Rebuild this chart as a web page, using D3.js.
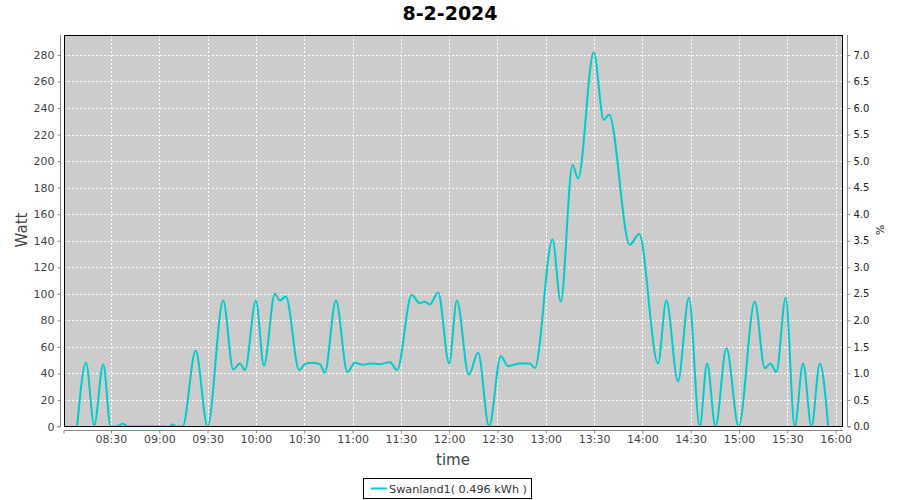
<!DOCTYPE html>
<html>
<head>
<meta charset="utf-8">
<script src="https://cdn.jsdelivr.net/npm/d3@7"></script>
<style>
  body { margin: 0; background: #fff; }
  svg { display: block; font-family: "DejaVu Sans", sans-serif; }
</style>
</head>
<body>
<svg id="chart" width="900" height="500"></svg>
<script>
// ---- data ----
const title = "8-2-2024";
const seriesName = "Swanland1( 0.496 kWh )";
const times = ["08:09:00","08:14:30","08:19:36","08:25:12","08:29:48","08:33:42","08:37:18","08:40:36",
  "09:06:36","09:08:18","09:10:24","09:14:30","09:22:36","09:30:00","09:39:42","09:45:54","09:50:06",
  "09:53:12","10:00:00","10:05:00","10:11:48","10:14:54","10:18:36","10:26:54","10:30:24","10:34:48",
  "10:39:42","10:42:48","10:49:42","10:56:48","11:01:30","11:06:24","11:10:48","11:17:00","11:23:12",
  "11:27:42","11:36:42","11:41:48","11:44:54","11:48:00","11:53:12","12:00:00","12:04:48","12:12:12",
  "12:18:00","12:24:48","12:32:06","12:36:36","12:43:54","12:50:06","12:53:12","13:04:12","13:09:18",
  "13:16:36","13:20:06","13:29:48","13:36:00","13:39:18","13:52:12","13:58:00","14:09:42","14:14:54",
  "14:22:06","14:28:54","14:35:36","14:40:12","14:45:24","14:52:12","14:59:48","15:09:48","15:16:00",
  "15:19:30","15:23:12","15:29:00","15:34:36","15:39:48","15:45:00","15:50:12","15:55:24"];
const watts = [0,48,1,47,0,0,2,0,
  0,1.5,0,0,57,0,95,43,47.5,
  42.5,95,46,100,95,98,42.5,47,48,
  47,40.5,95,41,48,46.5,47.5,47,48.5,
  42.5,99,93,94,92,101,47.5,95,39,
  55.5,0,53,45.5,47.5,47.5,44,141,94,
  197,187,282,231,235,137,145,47.5,95,
  34,97,0,47.5,0,59,0,94,44,
  47.5,41,97,0,47.5,0,47.5,0];
const leftTicks = [0,20,40,60,80,100,120,140,160,180,200,220,240,260,280];
const rightTicks = [0,0.5,1,1.5,2,2.5,3,3.5,4,4.5,5,5.5,6,6.5,7];
const xTickLabels = ["08:30","09:00","09:30","10:00","10:30","11:00","11:30","12:00","12:30","13:00","13:30","14:00","14:30","15:00","15:30","16:00"];

// ---- layout ----
const svg = d3.select("#chart");
const L = 64, R = 843, T = 35, B = 426.5;
const parse = d3.timeParse("%H:%M:%S");
const parseHM = d3.timeParse("%H:%M");
const data = times.map((t, i) => ({ t: parse(t), v: watts[i] }));

const x = d3.scaleTime().domain([parse("08:00:50"), parse("16:04:35")]).range([L, R]);
const y = d3.scaleLinear().domain([0, 295]).range([B, T]);
const y2 = d3.scaleLinear().domain([0, 7.375]).range([B, T]);
const xTicks = xTickLabels.map(parseHM);

// plot background
svg.append("rect").attr("x", L).attr("y", T).attr("width", R - L).attr("height", B - T)
  .attr("fill", "#cccccc");

// grid
const grid = svg.append("g").attr("stroke", "#fff").attr("stroke-width", 1).attr("stroke-dasharray", "2,2");
grid.selectAll("line.h").data(leftTicks.slice(1)).join("line")
  .attr("x1", L).attr("x2", R)
  .attr("y1", d => Math.round(y(d)) + 0.5).attr("y2", d => Math.round(y(d)) + 0.5);
grid.selectAll("line.v").data(xTicks).join("line")
  .attr("y1", T).attr("y2", B)
  .attr("x1", d => Math.round(x(d)) + 0.5).attr("x2", d => Math.round(x(d)) + 0.5);

// clip
svg.append("clipPath").attr("id", "clip").append("rect")
  .attr("x", L).attr("y", T - 2).attr("width", R - L).attr("height", B - T + 2);

// line
const line = d3.line().x(d => x(d.t)).y(d => y(d.v)).curve(d3.curveMonotoneX);
svg.append("path").datum(data).attr("d", line)
  .attr("fill", "none").attr("stroke", "#00cccc").attr("stroke-width", 2)
  .attr("stroke-linejoin", "round")
  .attr("clip-path", "url(#clip)");

// plot border
svg.append("rect").attr("x", L + 0.5).attr("y", T + 0.5).attr("width", R - L - 1).attr("height", B - T - 0.5)
  .attr("fill", "none").attr("stroke", "#000").attr("stroke-width", 1);

// axes
const axisColor = "#888";
const textColor = "#444";

const gL = svg.append("g").attr("transform", `translate(60.5,0)`)
  .call(d3.axisLeft(y).tickValues(leftTicks).tickSize(3).tickPadding(3).tickFormat(d3.format("d")));
const gR = svg.append("g").attr("transform", `translate(847.5,0)`)
  .call(d3.axisRight(y2).tickValues(rightTicks).tickSize(3).tickPadding(3).tickFormat(d3.format(".1f")));
const gB = svg.append("g").attr("transform", `translate(0,430.5)`)
  .call(d3.axisBottom(x).tickValues(xTicks).tickSize(3).tickPadding(2).tickFormat(d3.timeFormat("%H:%M")));

[gL, gR, gB].forEach(g => {
  g.select(".domain").attr("stroke", axisColor);
  g.selectAll(".tick line").attr("stroke", axisColor);
  g.selectAll(".tick text").attr("fill", textColor).style("font-family", "DejaVu Sans").style("font-size", "11px");
});
gR.selectAll(".tick text").attr("fill", "#222").style("font-size", "10px");
gL.select(".domain").attr("d", `M-3,${B}H0V${T}`);
gR.select(".domain").attr("d", `M3,${B}H0V${T}`);
gB.select(".domain").attr("d", `M${L},3V0H${R}`);

// titles
svg.append("text").attr("x", 450).attr("y", 20).attr("text-anchor", "middle")
  .style("font-size", "19px").style("font-weight", "bold").attr("fill", "#000").text(title);
svg.append("text").attr("transform", "translate(27,230) rotate(-90)").attr("text-anchor", "middle")
  .style("font-size", "15px").attr("fill", textColor).text("Watt");
svg.append("text").attr("transform", "translate(876,230) rotate(90)").attr("text-anchor", "middle")
  .style("font-size", "11px").attr("fill", "#222").text("%");
svg.append("text").attr("x", 453).attr("y", 465).attr("text-anchor", "middle")
  .style("font-size", "15px").attr("fill", textColor).text("time");

// legend
const lg = svg.append("g");
lg.append("rect").attr("x", 363.5).attr("y", 478.5).attr("width", 168).attr("height", 20)
  .attr("fill", "#fff").attr("stroke", "#000");
lg.append("line").attr("x1", 371).attr("x2", 387).attr("y1", 488.5).attr("y2", 488.5)
  .attr("stroke", "#00cccc").attr("stroke-width", 2);
lg.append("text").attr("x", 389).attr("y", 493).style("font-size", "11px")
  .attr("textLength", 138).attr("lengthAdjust", "spacingAndGlyphs")
  .attr("fill", "#333").text(seriesName);
</script>
</body>
</html>
